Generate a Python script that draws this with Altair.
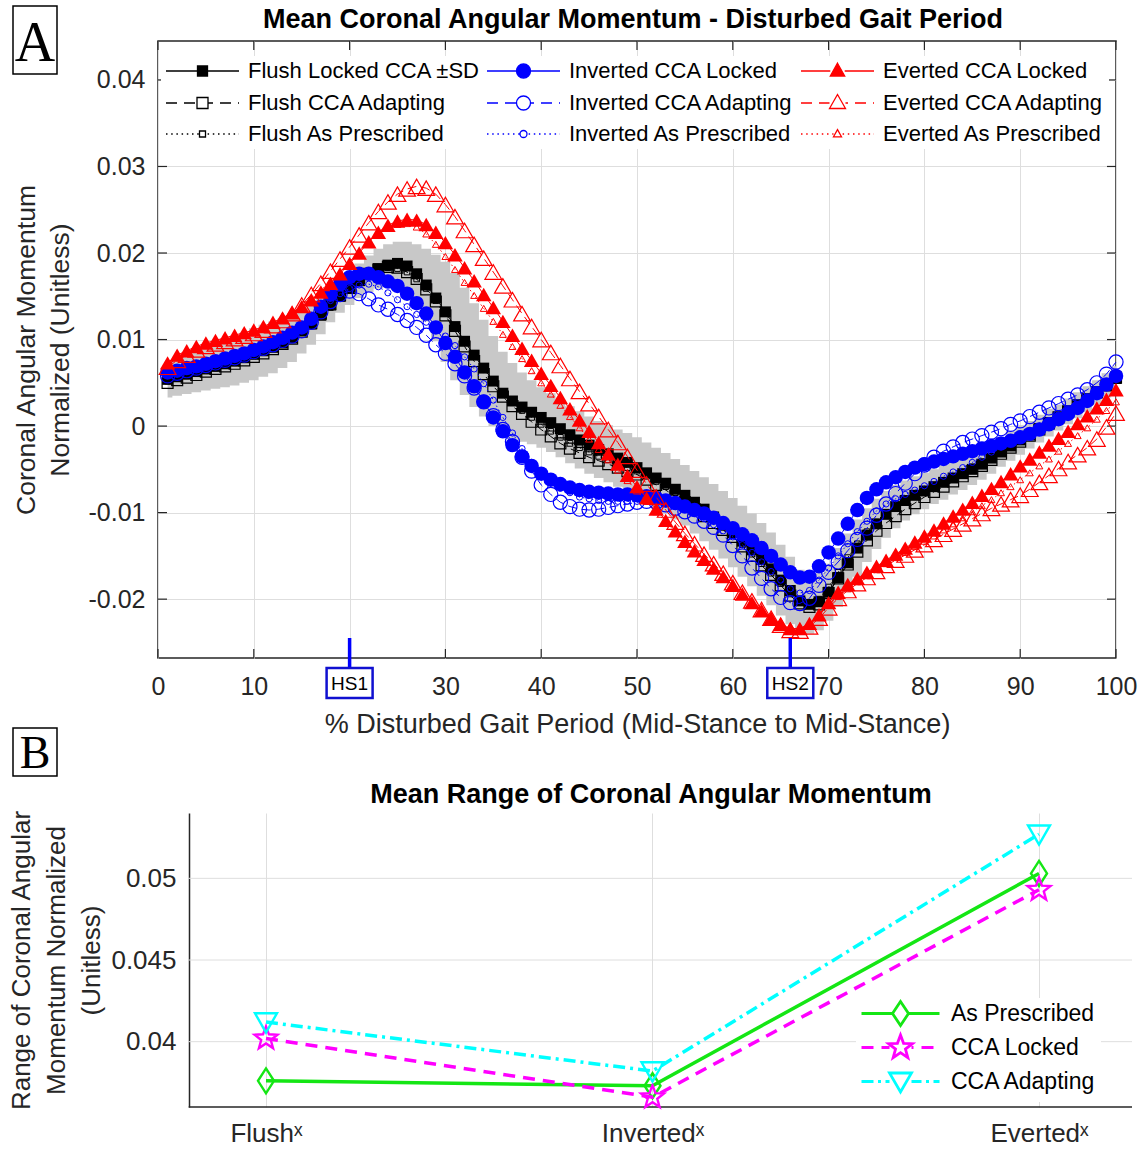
import math
import altair as alt
import pandas as pd

# ======================= Panel A data (values in 1/1000 units) =======================
pct = list(range(1, 101))

flush_locked = [5.4, 5.7, 6.0, 6.3, 6.6, 6.9, 7.2, 7.5, 7.9, 8.3,
                8.7, 9.1, 9.6, 10.2, 11.0, 11.8, 12.8, 14.0, 15.0, 15.9,
                16.8, 17.6, 18.2, 18.6, 18.8, 18.5, 17.6, 16.3, 14.8, 13.2,
                11.5, 9.8, 8.2, 6.7, 5.2, 3.8, 2.9, 2.2, 1.6, 1.0,
                0.4, -0.3, -1.0, -1.6, -2.2, -2.7, -3.2, -3.7, -4.2, -4.8,
                -5.4, -6.0, -6.6, -7.3, -8.0, -8.8, -9.6, -10.5, -11.4, -12.3,
                -13.3, -14.3, -15.4, -16.5, -17.8, -19.0, -20.2, -20.6, -20.3, -19.2,
                -17.5, -15.8, -14.1, -12.6, -11.3, -10.2, -9.3, -8.6, -8.0, -7.5,
                -7.0, -6.5, -6.0, -5.5, -5.0, -4.4, -3.7, -3.0, -2.3, -1.6,
                -1.0, -0.3, 0.4, 1.0, 1.7, 2.4, 3.1, 3.9, 4.7, 5.5]
flush_locked_sd = [2.1, 2.2, 2.3, 2.4, 2.5, 2.6, 2.7, 2.8, 2.9, 3.0,
                   3.0, 3.0, 2.9, 2.8, 2.6, 2.4, 2.2, 2.0, 1.9, 1.9,
                   2.0, 2.1, 2.3, 2.4, 2.5, 2.8, 3.4, 4.2, 5.0, 5.8,
                   6.2, 6.2, 6.0, 5.6, 5.2, 4.8, 4.4, 4.0, 3.7, 3.5,
                   3.4, 3.3, 3.3, 3.3, 3.3, 3.3, 3.3, 3.3, 3.4, 3.5,
                   3.5, 3.5, 3.5, 3.5, 3.5, 3.6, 3.7, 3.8, 3.9, 4.0,
                   4.1, 4.2, 4.2, 4.2, 4.1, 3.9, 3.6, 3.4, 3.3, 3.3,
                   3.4, 3.4, 3.3, 3.1, 2.9, 2.7, 2.5, 2.3, 2.2, 2.1,
                   2.0, 2.0, 1.9, 1.9, 1.8, 1.8, 1.8, 1.7, 1.7, 1.7,
                   1.6, 1.6, 1.6, 1.5, 1.5, 1.5, 1.5, 1.4, 1.4, 1.4]
flush_adapting = [5.0, 5.3, 5.6, 5.9, 6.3, 6.6, 6.9, 7.2, 7.6, 8.0,
                  8.4, 8.9, 9.5, 10.1, 10.9, 11.9, 13.0, 14.1, 15.1, 16.0,
                  16.9, 17.6, 18.1, 18.4, 18.3, 17.8, 17.0, 15.8, 14.4, 12.8,
                  11.0, 9.2, 7.5, 6.0, 4.6, 3.4, 2.3, 1.4, 0.5, -0.4,
                  -1.2, -2.0, -2.6, -3.1, -3.6, -4.0, -4.4, -4.8, -5.2, -5.6,
                  -6.2, -6.8, -7.4, -8.1, -8.8, -9.6, -10.4, -11.2, -12.0, -12.8,
                  -13.9, -15.0, -16.1, -17.2, -18.4, -19.6, -20.5, -20.9, -20.6, -19.3,
                  -17.6, -16.0, -14.5, -13.2, -12.1, -11.2, -10.4, -9.6, -8.9, -8.2,
                  -7.6, -7.0, -6.4, -5.8, -5.2, -4.6, -3.9, -3.2, -2.5, -1.8,
                  -1.1, -0.4, 0.3, 1.0, 1.7, 2.4, 3.1, 3.9, 4.7, 5.6]
flush_prescribed = [5.2, 5.5, 5.8, 6.1, 6.4, 6.7, 7.0, 7.4, 7.8, 8.1,
                    8.5, 9.0, 9.6, 10.2, 10.9, 11.8, 12.7, 13.7, 14.8, 15.8,
                    16.7, 17.5, 18.0, 18.3, 18.2, 17.8, 17.0, 15.9, 14.5, 13.0,
                    11.4, 9.8, 8.2, 6.6, 5.1, 3.8, 2.7, 1.8, 1.0, 0.2,
                    -0.6, -1.3, -2.0, -2.5, -3.0, -3.5, -3.9, -4.3, -4.8, -5.2,
                    -5.8, -6.4, -7.0, -7.7, -8.4, -9.2, -10.0, -10.9, -11.7, -12.6,
                    -13.7, -14.8, -15.9, -17.0, -18.2, -19.4, -20.1, -20.4, -20.0, -18.6,
                    -16.9, -15.2, -13.6, -12.2, -11.1, -10.2, -9.4, -8.6, -8.0, -7.4,
                    -6.9, -6.4, -5.8, -5.3, -4.7, -4.1, -3.5, -2.9, -2.2, -1.6,
                    -0.9, -0.2, 0.5, 1.1, 1.8, 2.5, 3.2, 4.0, 4.8, 5.6]
inverted_locked = [6.2, 6.4, 6.7, 6.9, 7.2, 7.5, 7.8, 8.1, 8.4, 8.8,
                   9.2, 9.7, 10.2, 10.8, 11.4, 12.4, 13.8, 15.2, 16.4, 17.2,
                   17.6, 17.6, 17.2, 16.7, 16.2, 15.3, 14.2, 13.0, 11.4, 9.6,
                   8.0, 6.2, 4.6, 2.8, 1.0, -0.6, -2.2, -3.5, -4.6, -5.5,
                   -6.2, -6.7, -7.1, -7.4, -7.6, -7.7, -7.8, -7.9, -7.9, -8.0,
                   -8.1, -8.3, -8.6, -8.9, -9.3, -9.7, -10.1, -10.6, -11.2, -11.8,
                   -12.5, -13.2, -14.1, -15.0, -16.0, -16.9, -17.5, -17.4, -16.2, -14.6,
                   -13.0, -11.3, -9.7, -8.3, -7.3, -6.5, -5.9, -5.3, -4.8, -4.4,
                   -4.1, -3.8, -3.5, -3.2, -2.9, -2.6, -2.3, -2.0, -1.7, -1.3,
                   -0.9, -0.4, 0.2, 0.8, 1.4, 2.1, 2.9, 3.8, 4.8, 5.8]
inverted_adapting = [5.8, 6.1, 6.4, 6.7, 7.0, 7.3, 7.6, 7.9, 8.2, 8.6,
                     9.0, 9.4, 9.9, 10.4, 11.0, 12.0, 13.2, 14.4, 15.2, 15.6,
                     15.3, 14.7, 14.0, 13.5, 12.9, 12.2, 11.4, 10.5, 9.4, 8.4,
                     7.2, 5.8, 4.4, 2.8, 1.2, -0.4, -1.8, -3.6, -5.2, -6.8,
                     -7.9, -8.8, -9.3, -9.6, -9.7, -9.6, -9.4, -9.2, -9.0, -8.8,
                     -8.7, -8.8, -9.1, -9.5, -9.9, -10.4, -11.0, -11.7, -12.6, -13.8,
                     -15.0, -16.4, -17.6, -18.8, -19.8, -20.4, -20.5, -19.9, -18.4, -16.9,
                     -15.7, -14.4, -13.1, -11.8, -10.3, -9.0, -7.8, -6.6, -5.5, -4.5,
                     -3.6, -2.9, -2.4, -1.9, -1.5, -1.1, -0.7, -0.3, 0.2, 0.6,
                     1.1, 1.6, 2.1, 2.6, 3.1, 3.6, 4.2, 5.0, 6.0, 7.4]
inverted_prescribed = [6.0, 6.3, 6.5, 6.8, 7.1, 7.4, 7.7, 8.0, 8.3, 8.7,
                       9.1, 9.5, 10.0, 10.6, 11.2, 12.2, 13.4, 14.5, 15.3, 15.9,
                       16.3, 16.4, 16.1, 15.4, 14.6, 13.8, 12.9, 12.0, 11.2, 10.4,
                       9.3, 8.0, 6.6, 4.9, 3.0, 1.0, -0.8, -2.6, -4.2, -5.6,
                       -6.5, -7.2, -7.7, -8.2, -8.4, -8.6, -8.7, -8.7, -8.7, -8.7,
                       -8.7, -8.8, -9.0, -9.3, -9.6, -10.1, -10.7, -11.4, -12.1, -12.8,
                       -13.7, -14.6, -15.7, -16.8, -17.8, -18.8, -19.3, -19.0, -17.8, -16.4,
                       -15.0, -13.6, -12.2, -11.0, -9.8, -9.0, -8.4, -7.9, -7.4, -6.9,
                       -6.4, -5.8, -5.3, -4.8, -4.2, -3.6, -3.0, -2.4, -1.8, -1.2,
                       -0.6, 0.0, 0.6, 1.3, 2.0, 2.7, 3.4, 4.2, 5.1, 6.0]
everted_locked = [7.3, 8.2, 8.7, 9.2, 9.6, 9.9, 10.2, 10.5, 10.8, 11.1,
                  11.5, 12.0, 12.5, 13.1, 13.8, 14.6, 15.5, 16.5, 17.6, 18.8,
                  20.0, 21.3, 22.4, 23.2, 23.7, 23.9, 23.8, 23.3, 22.4, 21.2,
                  19.8, 18.3, 16.8, 15.2, 13.7, 12.1, 10.5, 9.0, 7.6, 6.1,
                  4.7, 3.3, 2.0, 0.7, -0.6, -1.9, -3.2, -4.4, -5.7, -7.0,
                  -8.3, -9.6, -10.9, -12.1, -13.3, -14.4, -15.4, -16.4, -17.4, -18.4,
                  -19.4, -20.4, -21.3, -22.2, -22.9, -23.4, -23.4, -22.8, -21.8, -20.4,
                  -19.2, -18.3, -17.6, -16.9, -16.2, -15.5, -14.8, -14.1, -13.4, -12.7,
                  -12.0, -11.2, -10.4, -9.6, -8.8, -8.0, -7.2, -6.4, -5.5, -4.6,
                  -3.8, -3.0, -2.2, -1.4, -0.6, 0.3, 1.2, 2.1, 3.1, 4.2]
everted_adapting = [6.8, 7.6, 8.2, 8.8, 9.2, 9.5, 9.8, 10.1, 10.4, 10.7,
                    11.1, 11.6, 12.2, 13.0, 14.0, 15.2, 16.5, 17.9, 19.3, 20.7,
                    22.1, 23.5, 24.8, 25.9, 26.8, 27.4, 27.7, 27.5, 26.8, 25.6,
                    24.2, 22.6, 21.0, 19.4, 17.8, 16.2, 14.6, 13.0, 11.5, 10.0,
                    8.5, 7.0, 5.5, 4.0, 2.6, 1.1, -0.4, -1.9, -3.5, -5.1,
                    -6.7, -8.2, -9.7, -11.1, -12.4, -13.6, -14.8, -15.9, -17.0, -18.1,
                    -19.2, -20.2, -21.2, -22.2, -23.0, -23.6, -23.7, -23.2, -22.2, -21.0,
                    -19.9, -19.0, -18.2, -17.5, -16.8, -16.1, -15.5, -14.9, -14.3, -13.7,
                    -13.1, -12.5, -11.9, -11.3, -10.7, -10.1, -9.5, -9.0, -8.5, -8.0,
                    -7.3, -6.5, -5.7, -4.9, -4.1, -3.3, -2.5, -1.5, -0.1, 1.5]
everted_prescribed = [7.0, 7.9, 8.5, 9.0, 9.4, 9.7, 10.0, 10.3, 10.6, 10.9,
                      11.3, 11.8, 12.4, 13.1, 13.9, 14.8, 15.7, 16.7, 17.8, 19.0,
                      20.2, 21.3, 22.2, 22.9, 23.3, 23.4, 23.0, 22.2, 21.0, 19.6,
                      18.1, 16.6, 15.1, 13.6, 12.1, 10.6, 9.2, 7.8, 6.4, 5.0,
                      3.7, 2.4, 1.1, -0.2, -1.5, -2.7, -3.9, -5.1, -6.3, -7.5,
                      -8.7, -9.9, -11.1, -12.2, -13.3, -14.4, -15.4, -16.4, -17.4, -18.4,
                      -19.4, -20.4, -21.4, -22.3, -23.0, -23.5, -23.5, -22.9, -21.9, -20.7,
                      -19.7, -18.8, -18.0, -17.3, -16.6, -15.9, -15.2, -14.6, -13.9, -13.3,
                      -12.7, -12.0, -11.3, -10.6, -9.9, -9.2, -8.5, -7.7, -7.0, -6.2,
                      -5.4, -4.6, -3.8, -2.9, -2.0, -1.1, -0.2, 0.8, 1.8, 2.8]

series_names = ["Flush Locked CCA \u00b1SD", "Flush CCA Adapting", "Flush As Prescribed",
                "Inverted CCA Locked", "Inverted CCA Adapting", "Inverted As Prescribed",
                "Everted CCA Locked", "Everted CCA Adapting", "Everted As Prescribed"]
series_values = [flush_locked, flush_adapting, flush_prescribed,
                 inverted_locked, inverted_adapting, inverted_prescribed,
                 everted_locked, everted_adapting, everted_prescribed]

title_a = "Mean Coronal Angular Momentum - Disturbed Gait Period"
hs_positions = [20, 66]
hs_labels = ["HS1", "HS2"]
x_ticks_a = [0, 10, 20, 30, 40, 50, 60, 70, 80, 90, 100]
y_ticks_a = [-0.02, -0.01, 0.0, 0.01, 0.02, 0.03, 0.04]

# ======================= Panel B data =======================
b_conditions = ["Flush", "Inverted", "Everted"]
b_series = ["As Prescribed", "CCA Locked", "CCA Adapting"]
b_as_prescribed = [0.0376, 0.0373, 0.0503]
b_cca_locked = [0.0402, 0.0366, 0.0493]
b_cca_adapting = [0.0412, 0.0382, 0.0527]
y_ticks_b = [0.04, 0.045, 0.05]

# ======================= styling =======================
FONT = "Liberation Sans, Arial, DejaVu Sans, sans-serif"
SERIF = "Liberation Serif, Times New Roman, serif"
NARROW = "Liberation Sans Narrow, Arial Narrow, Liberation Sans, sans-serif"
AXC = "#262626"
GRID = "#dedede"
BLACK, BLUE, RED = "#000000", "#0000ff", "#ff0000"
GREEN, MAGENTA, CYAN = "#14e614", "#ff00ff", "#00ffff"

WA, HA = 958, 617
WB, HB = 974, 294
XDOM_A = [0, 100]
YDOM_A = [-0.0268, 0.0445]
XDOM_B = [0.7206, 3.2406]
XAXIS_B = 0.8
YDOM_B = [0.036, 0.054]

# legend symbols: size 20x20 px box => 1 path unit = 10 px; lines drawn longer than the box
LEG_SIZE = 400


def hseg_parts(L, pattern, m):
    """horizontal line segments over [-L,L] (path units), skipping the marker zone [-m,m]"""
    segs = []
    if pattern is None:
        segs = [(-L, -m), (m, L)]
    else:
        t, i = -L, 0
        while t < L:
            on, off = pattern[i % len(pattern)]
            a, b = t, min(t + on, L)
            if b <= -m or a >= m:
                segs.append((a, b))
            else:
                if a < -m:
                    segs.append((a, -m))
                if b > m:
                    segs.append((m, b))
            t += on + off
            i += 1
    return "".join(f"M{a:.3f},0L{b:.3f},0" for a, b in segs)


def square_p(s):
    return f"M{-s:.3f},{-s:.3f}L{s:.3f},{-s:.3f}L{s:.3f},{s:.3f}L{-s:.3f},{s:.3f}Z"


def circle_p(r):
    return f"M{-r:.3f},0A{r:.3f},{r:.3f} 0 1,0 {r:.3f},0A{r:.3f},{r:.3f} 0 1,0 {-r:.3f},0Z"


def tri_up_p(hw, top, bot):
    return f"M0,{-top:.3f}L{hw:.3f},{bot:.3f}L{-hw:.3f},{bot:.3f}Z"


def tri_down_p(hw, top, bot):
    return f"M{-hw:.3f},{-top:.3f}L{hw:.3f},{-top:.3f}L0,{bot:.3f}Z"


def diamond_p(hw, hh):
    return f"M0,{-hh:.3f}L{hw:.3f},0L0,{hh:.3f}L{-hw:.3f},0Z"


def star_p(R, r):
    pts = []
    for k in range(10):
        ang = -math.pi / 2 + k * math.pi / 5
        rad = R if k % 2 == 0 else r
        pts.append((rad * math.cos(ang), rad * math.sin(ang)))
    return "M" + "L".join(f"{x:.3f},{y:.3f}" for x, y in pts) + "Z"


LA = 3.65  # half line length of panel A legend symbol (73 px)
DASH_A = [(1.1, 0.7)]
DOT_A = [(0.15, 0.37)]

styles_a = [
    dict(color=BLACK, shape="square", filled=True, size=120, sw=1, dash=None,
         leg=hseg_parts(LA, None, 0.5) + square_p(0.5), fill=BLACK),
    dict(color=BLACK, shape="square", filled=False, size=120, sw=1.2, dash=[9, 5],
         leg=hseg_parts(LA, DASH_A, 0.55) + square_p(0.55), fill="white"),
    dict(color=BLACK, shape="square", filled=False, size=32, sw=1, dash=[1.5, 3],
         leg=hseg_parts(LA, DOT_A, 0.3) + square_p(0.3), fill="white"),
    dict(color=BLUE, shape="circle", filled=True, size=210, sw=1, dash=None,
         leg=hseg_parts(LA, None, 0.7) + circle_p(0.7), fill=BLUE),
    dict(color=BLUE, shape="circle", filled=False, size=200, sw=1.2, dash=[9, 5],
         leg=hseg_parts(LA, DASH_A, 0.7) + circle_p(0.7), fill="white"),
    dict(color=BLUE, shape="circle", filled=False, size=38, sw=1, dash=[1.5, 3],
         leg=hseg_parts(LA, DOT_A, 0.36) + circle_p(0.35), fill="white"),
    dict(color=RED, shape="triangle-up", filled=True, size=240, sw=1, dash=None,
         leg=hseg_parts(LA, None, 0.72) + tri_up_p(0.72, 0.78, 0.5), fill=RED),
    dict(color=RED, shape="triangle-up", filled=False, size=280, sw=1.2, dash=[9, 5],
         leg=hseg_parts(LA, DASH_A, 0.8) + tri_up_p(0.8, 0.85, 0.55), fill="white"),
    dict(color=RED, shape="triangle-up", filled=False, size=48, sw=1, dash=[1.5, 3],
         leg=hseg_parts(LA, DOT_A, 0.4) + tri_up_p(0.4, 0.44, 0.28), fill="white"),
]

# ======================= Panel A =======================
recs = []
for name, vals in zip(series_names, series_values):
    for p, v in zip(pct, vals):
        recs.append({"series": name, "pct": p, "value": v / 1000.0})
dfA = pd.DataFrame(recs)

band_df = pd.DataFrame({
    "pct": pct,
    "lo": [(m - s) / 1000.0 for m, s in zip(flush_locked, flush_locked_sd)],
    "hi": [(m + s) / 1000.0 for m, s in zip(flush_locked, flush_locked_sd)],
})

sxA = alt.Scale(domain=XDOM_A, nice=False, zero=False)
syA = alt.Scale(domain=YDOM_A, nice=False, zero=False)
axXA = alt.Axis(title="% Disturbed Gait Period (Mid-Stance to Mid-Stance)", values=x_ticks_a,
                labelExpr="datum.value == 20 ? '' : format(datum.value, 'd')",
                grid=True, gridColor=GRID, gridWidth=1, domain=False, ticks=False,
                labelFontSize=25, labelPadding=16, labelColor=AXC, labelFlush=False, labelOverlap=False,
                titleFontSize=27, titleFontWeight="normal", titleColor=AXC, titlePadding=12)
axYA = alt.Axis(title=["Coronal Angular Momentum", "Normalized (Unitless)"], values=y_ticks_a,
                labelExpr="replace(format(datum.value, '.2~f'), '\u2212', '-')",
                grid=True, gridColor=GRID, gridWidth=1, domain=False, ticks=False,
                labelFontSize=25, labelPadding=13, labelColor=AXC, labelFlush=False, labelOverlap=False,
                titleFontSize=26.5, titleFontWeight="normal", titleColor=AXC, titlePadding=14,
                titleLineHeight=34)


def XA(field):
    return alt.X(field, type="quantitative", scale=sxA, axis=axXA)


def YA(field):
    return alt.Y(field, type="quantitative", scale=syA, axis=axYA)


layersA = []
layersA.append(alt.Chart(band_df).mark_area(interpolate="step", color="#c8c8c8", opacity=1)
               .encode(x=XA("pct"), y=YA("lo"), y2=alt.Y2("hi")))

xt_df = pd.DataFrame({"t": x_ticks_a})
yt_df = pd.DataFrame({"t": y_ticks_a})
TK = 9
layersA.append(alt.Chart(xt_df).mark_rule(color=AXC, strokeWidth=1.2)
               .encode(x=XA("t"), y=alt.value(HA), y2=alt.value(HA - TK)))
layersA.append(alt.Chart(xt_df).mark_rule(color=AXC, strokeWidth=1.2)
               .encode(x=XA("t"), y=alt.value(0), y2=alt.value(TK)))
layersA.append(alt.Chart(yt_df).mark_rule(color=AXC, strokeWidth=1.2)
               .encode(y=YA("t"), x=alt.value(0), x2=alt.value(TK)))
layersA.append(alt.Chart(yt_df).mark_rule(color=AXC, strokeWidth=1.2)
               .encode(y=YA("t"), x=alt.value(WA), x2=alt.value(WA - TK)))

for name, st in zip(series_names, styles_a):
    base = alt.Chart(dfA).transform_filter(alt.datum.series == name)
    lk = dict(color=st["color"], strokeWidth=1)
    if st["dash"] is not None:
        lk["strokeDash"] = st["dash"]
    layersA.append(base.mark_line(**lk).encode(x=XA("pct"), y=YA("value")))
    layersA.append(base.mark_point(shape=st["shape"], filled=st["filled"], color=st["color"],
                                   size=st["size"], strokeWidth=st["sw"], opacity=1)
                   .encode(x=XA("pct"), y=YA("value")))

# heel-strike markers
hs_df = pd.DataFrame({"pos": hs_positions, "lab": hs_labels})
HS_BOX = "M-1,-0.652L1,-0.652L1,0.652L-1,0.652Z"
layersA.append(alt.Chart(hs_df).mark_rule(color=BLUE, strokeWidth=3.5)
               .encode(x=XA("pos"), y=alt.value(HA - 20), y2=alt.value(HA + 11)))
layersA.append(alt.Chart(hs_df).mark_point(shape=HS_BOX, size=46 * 46, filled=True, fill="white",
                                           stroke="#1010d0", strokeWidth=2.5, opacity=1)
               .encode(x=XA("pos"), y=alt.value(HA + 25)))
layersA.append(alt.Chart(hs_df).mark_text(font=NARROW, fontSize=19, color="black",
                                          baseline="middle", align="center")
               .encode(x=XA("pos"), y=alt.value(HA + 26), text="lab:N"))

# legend (built from the series scale domain only)
legA = alt.Legend(title=None, orient="none", legendX=3, legendY=15, direction="vertical", columns=3,
                  symbolSize=LEG_SIZE, symbolOffset=26.5, symbolStrokeWidth=1.3, symbolOpacity=1,
                  labelFontSize=22, labelFont=FONT, labelColor="black", labelLimit=600,
                  labelOffset=34.5, columnPadding=3, rowPadding=9, fillColor="white", padding=4)
layersA.append(
    alt.Chart(dfA).transform_filter("false").mark_point(filled=True, opacity=1, strokeWidth=1.3)
    .encode(x=XA("pct"), y=YA("value"),
            shape=alt.Shape("series:N", scale=alt.Scale(domain=series_names, range=[s["leg"] for s in styles_a]),
                            legend=legA),
            fill=alt.Fill("series:N", scale=alt.Scale(domain=series_names, range=[s["fill"] for s in styles_a]),
                          legend=legA),
            stroke=alt.Stroke("series:N", scale=alt.Scale(domain=series_names, range=[s["color"] for s in styles_a]),
                              legend=legA))
)

# panel title and panel labels
one = pd.DataFrame({"k": [0]})
layersA.append(alt.Chart(one).mark_text(text=title_a, font=FONT, fontSize=27, fontWeight="bold",
                                        color="black", baseline="alphabetic", align="center")
               .encode(x=alt.value(475), y=alt.value(-13)))
BOX_A = "M-1,-1.545L1,-1.545L1,1.545L-1,1.545Z"
BOX_B = "M-1,-1.09L1,-1.09L1,1.09L-1,1.09Z"
layersA.append(alt.Chart(one).mark_point(shape=BOX_A, size=44 * 44, filled=True, fill="white",
                                         stroke="black", strokeWidth=1.5, opacity=1)
               .encode(x=alt.value(-123), y=alt.value(-1)))
layersA.append(alt.Chart(one).mark_text(text="A", font=SERIF, fontSize=56, color="black",
                                        baseline="alphabetic", align="center")
               .encode(x=alt.value(-123), y=alt.value(20)))
layersA.append(alt.Chart(one).mark_point(shape=BOX_B, size=44 * 44, filled=True, fill="white",
                                         stroke="black", strokeWidth=1.5, opacity=1)
               .encode(x=alt.value(-123), y=alt.value(711)))
layersA.append(alt.Chart(one).mark_text(text="B", font=SERIF, fontSize=46, color="black",
                                        baseline="alphabetic", align="center")
               .encode(x=alt.value(-123), y=alt.value(727)))

chartA = alt.layer(*layersA).properties(
    width=WA, height=HA,
    view=alt.ViewBackground(stroke=AXC, strokeWidth=1.5),
)

# ======================= Panel B =======================
recsB = []
for name, vals in zip(b_series, [b_as_prescribed, b_cca_locked, b_cca_adapting]):
    for i, (cond, v) in enumerate(zip(b_conditions, vals), start=1):
        recsB.append({"series": name, "cond": cond, "idx": i, "value": v})
dfB = pd.DataFrame(recsB)

labels_b = [""] + [c + "\u02e3" for c in b_conditions]
label_expr_b = "[" + ",".join("'" + s + "'" for s in labels_b) + "][datum.value]"

sxB = alt.Scale(domain=XDOM_B, nice=False, zero=False)
syB = alt.Scale(domain=YDOM_B, nice=False, zero=False)
axXB = alt.Axis(title=None, values=[1, 2, 3], labelExpr=label_expr_b, grid=True, gridColor=GRID,
                domain=False, ticks=False, labelFontSize=26, labelPadding=13, labelColor=AXC,
                labelFlush=False, labelOverlap=False)
axYB = alt.Axis(title=["Range of Coronal Angular", "Momentum Normalized", "(Unitless)"], values=y_ticks_b,
                labelExpr="format(datum.value, '.3~f')", grid=False, domain=True, domainColor=AXC,
                domainWidth=1.5, ticks=False, offset=-31, labelFontSize=26, labelPadding=13,
                labelColor=AXC, labelFlush=False, titleFontSize=26, titleFontWeight="normal",
                titleColor=AXC, titleLineHeight=35, titlePadding=6)


def XB(field):
    return alt.X(field, type="quantitative", scale=sxB, axis=axXB)


def YB(field):
    return alt.Y(field, type="quantitative", scale=syB, axis=axYB)


LB = 3.9  # half line length of panel B legend symbol (78 px)
DASH_B = [(1.2, 0.8)]
DASHDOT_B = [(1.2, 0.45), (0.3, 0.45)]
styles_b = [
    dict(color=GREEN, dash=None, shape="M0,-1.25L0.8,0L0,1.25L-0.8,0Z", size=400,
         leg=hseg_parts(LB, None, 0.8) + diamond_p(0.8, 1.2)),
    dict(color=MAGENTA, dash=[12, 8], shape=star_p(1.0, 0.42), size=576,
         leg=hseg_parts(LB, DASH_B, 1.1) + star_p(1.25, 0.52)),
    dict(color=CYAN, dash=[12, 5, 3, 5], shape="M-1,-0.8L1,-0.8L0,0.95Z", size=484,
         leg=hseg_parts(LB, DASHDOT_B, 1.1) + tri_down_p(1.1, 0.85, 1.05)),
]

layersB = []
gridB_df = pd.DataFrame({"t": y_ticks_b})
layersB.append(alt.Chart(gridB_df).mark_rule(color=GRID, strokeWidth=1)
               .encode(y=YB("t"),
                       x=alt.X(datum=XAXIS_B, type="quantitative", scale=sxB, axis=axXB),
                       x2=alt.X2(datum=XDOM_B[1])))
layersB.append(alt.Chart(one).mark_rule(color=AXC, strokeWidth=1.5)
               .encode(x=alt.X(datum=XAXIS_B, type="quantitative", scale=sxB, axis=axXB),
                       x2=alt.X2(datum=XDOM_B[1]), y=alt.value(HB)))
for name, st in zip(b_series, styles_b):
    base = alt.Chart(dfB).transform_filter(alt.datum.series == name)
    lk = dict(color=st["color"], strokeWidth=3.5)
    if st["dash"] is not None:
        lk["strokeDash"] = st["dash"]
    layersB.append(base.mark_line(**lk).encode(x=XB("idx"), y=YB("value")))
    layersB.append(base.mark_point(shape=st["shape"], filled=False, color=st["color"], size=st["size"],
                                   strokeWidth=2.4, opacity=1)
                   .encode(x=XB("idx"), y=YB("value")))

legB = alt.Legend(title=None, orient="none", legendX=698, legendY=185, direction="vertical",
                  gridAlign="all",
                  symbolSize=LEG_SIZE, symbolOffset=29, symbolStrokeWidth=2.8, symbolOpacity=1,
                  labelFontSize=23, labelFont=FONT, labelColor="black", labelLimit=600,
                  labelOffset=39, rowPadding=-3, fillColor="white", padding=4)
layersB.append(
    alt.Chart(dfB).transform_filter("false").mark_point(filled=True, opacity=1, strokeWidth=2.8)
    .encode(x=XB("idx"), y=YB("value"),
            shape=alt.Shape("series:N", scale=alt.Scale(domain=b_series, range=[s["leg"] for s in styles_b]),
                            legend=legB),
            fill=alt.Fill("series:N", scale=alt.Scale(domain=b_series, range=["white"] * 3), legend=legB),
            stroke=alt.Stroke("series:N", scale=alt.Scale(domain=b_series, range=[s["color"] for s in styles_b]),
                              legend=legB))
)

chartB = alt.layer(*layersB).properties(
    width=WB, height=HB,
    title=alt.Title("Mean Range of Coronal Angular Momentum", fontSize=27, fontWeight="bold",
                    anchor="middle", frame="group", offset=1, dx=6, color="black", font=FONT),
    view=alt.ViewBackground(stroke="transparent"),
)

chart = (
    alt.vconcat(chartA, chartB, spacing=0)
    .resolve_scale(x="independent", y="independent", shape="independent", fill="independent",
                   stroke="independent")
    .resolve_legend(shape="independent", fill="independent", stroke="independent")
    .properties(padding={"left": 8, "top": 2, "right": 2, "bottom": 0}, background="white")
    .configure(font=FONT)
    .configure_axis(labelFont=FONT, titleFont=FONT)
    .configure_legend(labelFont=FONT)
    .configure_title(font=FONT)
)

chart.save("out.html", embed_options={"renderer": "svg", "actions": False})
